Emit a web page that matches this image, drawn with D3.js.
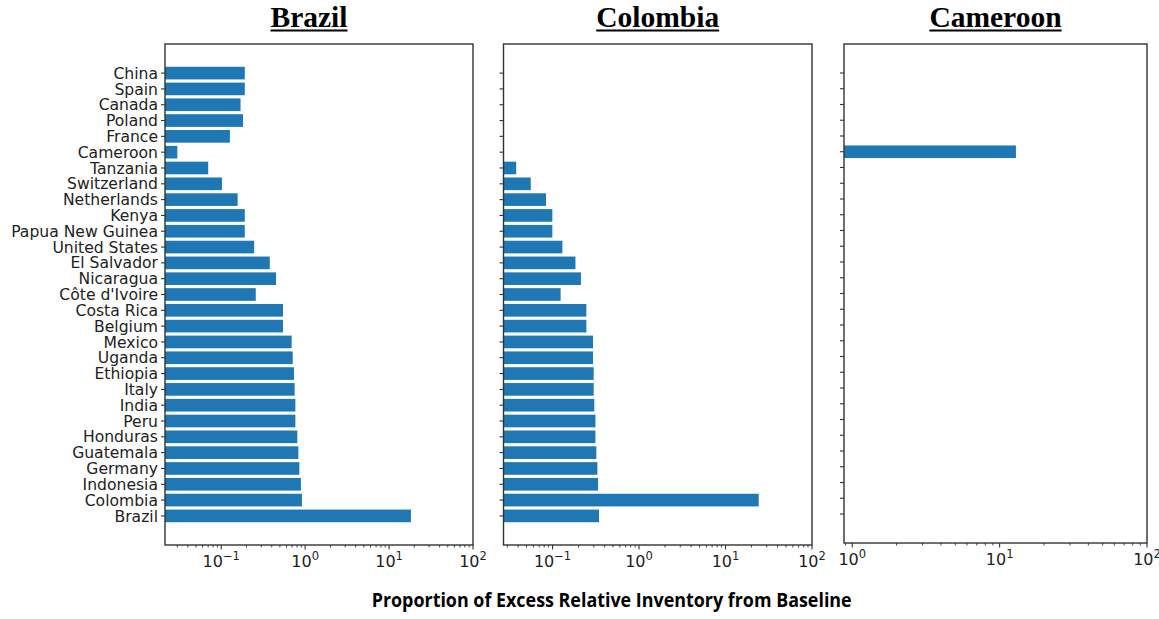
<!DOCTYPE html>
<html>
<head>
<meta charset="utf-8">
<script src="https://cdn.jsdelivr.net/npm/d3@7"></script>
<style>
  html, body { margin: 0; padding: 0; background: #fff; }
  svg { display: block; }
</style>
</head>
<body>
<svg id="chart" width="1159" height="619"></svg>
<script>
// Countries, listed top to bottom
const categories = [
  "China", "Spain", "Canada", "Poland", "France", "Cameroon", "Tanzania",
  "Switzerland", "Netherlands", "Kenya", "Papua New Guinea", "United States",
  "El Salvador", "Nicaragua", "Côte d'Ivoire", "Costa Rica", "Belgium",
  "Mexico", "Uganda", "Ethiopia", "Italy", "India", "Peru", "Honduras",
  "Guatemala", "Germany", "Indonesia", "Colombia", "Brazil"
];

// Proportion of excess relative inventory, shock in Brazil
const brazilValues = [
  0.191, 0.191, 0.170, 0.182, 0.127, 0.030, 0.070,
  0.102, 0.157, 0.191, 0.191, 0.247,
  0.379, 0.450, 0.258, 0.545, 0.545,
  0.691, 0.711, 0.736, 0.750, 0.765, 0.765, 0.807,
  0.830, 0.853, 0.891, 0.916, 18.2
];

// Shock in Colombia (no excess for the first six countries)
const colombiaValues = [
  null, null, null, null, null, null, 0.038,
  0.056, 0.084, 0.0995, 0.0995, 0.130,
  0.184, 0.213, 0.124, 0.246, 0.246,
  0.294, 0.294, 0.299, 0.299, 0.304, 0.313, 0.313,
  0.321, 0.330, 0.336, 24.2, 0.345
];

// Shock in Cameroon (only Cameroon itself is affected)
const cameroonValues = [
  null, null, null, null, null, 12.9, null,
  null, null, null, null, null,
  null, null, null, null, null,
  null, null, null, null, null, null, null,
  null, null, null, null, null
];

const panelTitles = ["Brazil", "Colombia", "Cameroon"];
const panelXDomains = [[0.0214, 100], [0.0271, 100], [0.879, 100]];
const majorTicks = [[0.1, 1, 10, 100], [0.1, 1, 10, 100], [1, 10, 100]];
const xAxisLabel = "Proportion of Excess Relative Inventory from Baseline";

const svg = d3.select("#chart");
const barColor = "#1f77b4";
const spineColor = "#333333";
const textColor = "#222222";

const panels = [
  { values: brazilValues,   left: 165,   right: 473,  top: 44, bottom: 545, showLabels: true,  titleX: 309 },
  { values: colombiaValues, left: 503.5, right: 812,  top: 44, bottom: 545, showLabels: false, titleX: 657.7 },
  { values: cameroonValues, left: 844,   right: 1147, top: 44, bottom: 543, showLabels: false, titleX: 995.5 }
];

const n = categories.length;

panels.forEach((p, k) => {
  const x = d3.scaleLog().domain(panelXDomains[k]).range([p.left, p.right]);
  // bar positions: bottom row at 0, with 5% margins around the bars
  const y = d3.scaleLinear().domain([-1.84, n - 1 + 1.84]).range([p.bottom, p.top]);
  const pos = i => n - 1 - i;
  const barH = y(0) - y(0.8);

  const g = svg.append("g");

  // bars
  g.selectAll("rect.bar")
    .data(p.values.map((v, i) => ({ v, i })).filter(d => d.v != null))
    .join("rect")
    .attr("class", "bar")
    .attr("x", p.left)
    .attr("y", d => y(pos(d.i)) - barH / 2)
    .attr("width", d => x(d.v) - p.left)
    .attr("height", barH)
    .attr("fill", barColor);

  // y ticks
  g.selectAll("line.ytick")
    .data(categories)
    .join("line")
    .attr("x1", p.left - 4).attr("x2", p.left)
    .attr("y1", (d, i) => y(pos(i))).attr("y2", (d, i) => y(pos(i)))
    .attr("stroke", spineColor).attr("stroke-width", 1.1);

  if (p.showLabels) {
    g.selectAll("text.ylab")
      .data(categories)
      .join("text")
      .attr("x", p.left - 7)
      .attr("y", (d, i) => y(pos(i)))
      .attr("dy", "0.36em")
      .attr("text-anchor", "end")
      .attr("font-family", "DejaVu Sans")
      .attr("font-size", 15.6)
      .attr("fill", textColor)
      .text(d => d);
  }

  // x minor ticks
  const [d0, d1] = panelXDomains[k];
  const minor = [];
  for (let e = Math.floor(Math.log10(d0)); e < Math.ceil(Math.log10(d1)); e++) {
    for (let m = 2; m <= 9; m++) {
      const v = m * Math.pow(10, e);
      if (v >= d0 && v <= d1) minor.push(v);
    }
  }
  g.selectAll("line.xminor")
    .data(minor)
    .join("line")
    .attr("x1", d => x(d)).attr("x2", d => x(d))
    .attr("y1", p.bottom).attr("y2", p.bottom + 2.5)
    .attr("stroke", spineColor).attr("stroke-width", 0.9);

  // x major ticks and labels
  g.selectAll("line.xmajor")
    .data(majorTicks[k])
    .join("line")
    .attr("x1", d => x(d)).attr("x2", d => x(d))
    .attr("y1", p.bottom).attr("y2", p.bottom + 4.5)
    .attr("stroke", spineColor).attr("stroke-width", 1.1);

  const labels = g.selectAll("text.xlab")
    .data(majorTicks[k])
    .join("text")
    .attr("x", d => x(d))
    .attr("y", p.bottom + 21.5)
    .attr("text-anchor", "middle")
    .attr("font-family", "DejaVu Sans")
    .attr("font-size", 16)
    .attr("fill", textColor);
  labels.each(function (d) {
    const e = Math.round(Math.log10(d));
    const t = d3.select(this);
    t.append("tspan").text("10");
    t.append("tspan")
      .attr("font-size", 11.5)
      .attr("dy", -6.8)
      .text(String(e).replace("-", "−"));
  });

  // frame
  g.append("rect")
    .attr("x", p.left).attr("y", p.top)
    .attr("width", p.right - p.left).attr("height", p.bottom - p.top)
    .attr("fill", "none")
    .attr("stroke", spineColor)
    .attr("stroke-width", 1.4);

  // panel title, bold serif with underline
  const title = svg.append("text")
    .attr("x", p.titleX)
    .attr("y", 27)
    .attr("text-anchor", "middle")
    .attr("font-family", "Liberation Serif, Times New Roman, serif")
    .attr("font-weight", "bold")
    .attr("font-size", 29.5)
    .attr("fill", "#000")
    .text(panelTitles[k]);
  const w = title.node().getComputedTextLength();
  svg.append("line")
    .attr("x1", p.titleX - w / 2).attr("x2", p.titleX + w / 2)
    .attr("y1", 30.5).attr("y2", 30.5)
    .attr("stroke", "#000").attr("stroke-width", 2);
});

// shared x-axis label
svg.append("text")
  .attr("x", 611.7)
  .attr("y", 607)
  .attr("text-anchor", "middle")
  .attr("font-family", "Open Sans, Noto Sans, sans-serif")
  .attr("font-weight", 700)
  .attr("font-size", 19)
  .attr("textLength", 480)
  .attr("lengthAdjust", "spacingAndGlyphs")
  .attr("fill", "#000")
  .text(xAxisLabel);
</script>
</body>
</html>
